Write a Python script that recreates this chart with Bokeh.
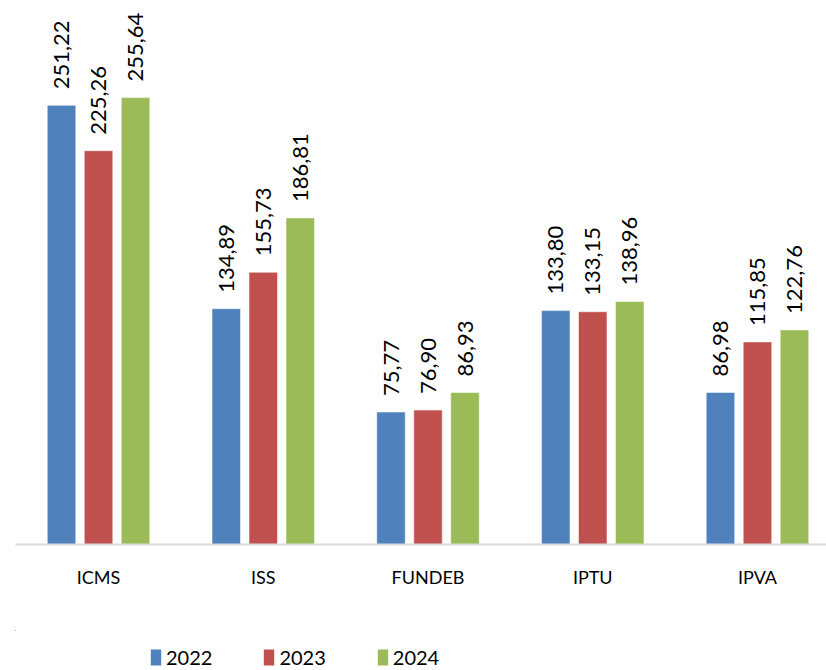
import math
from bokeh.plotting import figure
from bokeh.layouts import column
from bokeh.models import ColumnDataSource, Range1d, FixedTicker, Legend, LegendItem
from bokeh.core.properties import value
from bokeh.embed import file_html
from bokeh.resources import INLINE

categories = ["ICMS", "ISS", "FUNDEB", "IPTU", "IPVA"]
years = ["2022", "2023", "2024"]
v2022 = [251.22, 134.89, 75.77, 133.80, 86.98]
v2023 = [225.26, 155.73, 76.90, 133.15, 115.85]
v2024 = [255.64, 186.81, 86.93, 138.96, 122.76]
colors = ["#4F81BD", "#C0504D", "#9BBB59"]

FONT = "Lato"

p = figure(width=826, height=630, output_backend="svg", toolbar_location=None,
           x_range=Range1d(-0.504, 4.419), y_range=Range1d(0, 311.2),
           min_border_left=15, min_border_right=0, min_border_top=0,
           min_border_bottom=86)
p.outline_line_color = None
p.grid.grid_line_color = None
p.yaxis.visible = False

# legend strip below the chart (its bars lie outside its visible ranges)
lf = figure(width=826, height=40, output_backend="svg", toolbar_location=None,
            x_range=Range1d(10, 11), y_range=Range1d(-10, -9),
            min_border_left=0, min_border_right=0, min_border_top=0,
            min_border_bottom=0)
lf.outline_line_color = None
lf.grid.grid_line_color = None
lf.xaxis.visible = False
lf.yaxis.visible = False

offsets = [-0.2246, 0.0, 0.2246]
series = [v2022, v2023, v2024]
items = []
for yr, vals, off, col in zip(years, series, offsets, colors):
    xs = [i + off for i in range(len(categories))]
    labels = [f"{v:.2f}".replace(".", ",") for v in vals]
    src = ColumnDataSource(dict(x=xs, top=vals, lab=labels))
    p.vbar(x="x", top="top", width=0.173, bottom=0, source=src,
           fill_color=col, line_color="white", line_alpha=0.5, line_width=1)
    p.text(x="x", y="top", text="lab", source=src, angle=math.pi / 2,
           text_align="left", text_baseline="middle", y_offset=-16,
           text_font=value(FONT), text_font_size="22px", text_color="black")
    lr = lf.vbar(x="x", top="top", width=0.173, bottom=0, source=src,
                 fill_color=col, line_color=None)
    items.append(LegendItem(label=yr, renderers=[lr]))

ax = p.xaxis[0]
ax.ticker = FixedTicker(ticks=list(range(len(categories))))
ax.major_label_overrides = {i: c for i, c in enumerate(categories)}
ax.axis_line_color = "#d9d9d9"
ax.axis_line_width = 2
ax.major_tick_line_color = None
ax.minor_tick_line_color = None
ax.major_tick_out = 0
ax.major_tick_in = 0
ax.major_label_standoff = 21
ax.major_label_text_font = FONT
ax.major_label_text_font_size = "18px"
ax.major_label_text_color = "black"

legend = Legend(items=items, orientation="horizontal", location=(134, 1),
                padding=0, margin=0, spacing=50, label_standoff=4,
                glyph_width=13, glyph_height=20,
                border_line_color=None, background_fill_alpha=0,
                label_text_font=FONT, label_text_font_size="20px",
                label_text_color="black")
lf.add_layout(legend, "center")

layout = column(p, lf, spacing=0)
open("out.html", "w").write(file_html(layout, INLINE))
